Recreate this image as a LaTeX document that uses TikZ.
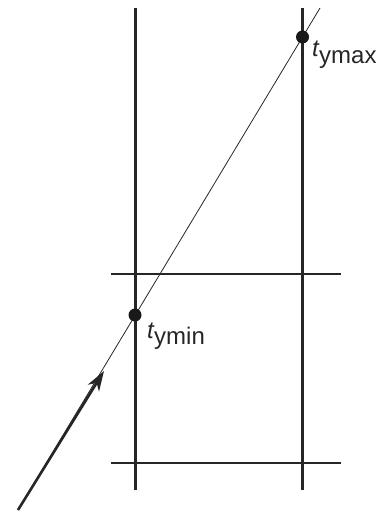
\documentclass[tikz,border=0pt]{standalone}
\usepackage{fontspec}
\setmainfont{Liberation Sans}
\usetikzlibrary{arrows.meta}
\begin{document}
\begin{tikzpicture}[x=1pt,y=-1pt,
  ink/.style={color=black!85},
  slab/.style={ink,line width=2.4pt},
  cut/.style={ink,line width=1.4pt},
  ray/.style={ink,line width=0.8pt},
  raythick/.style={ink,line width=2.6pt,-{Stealth[length=20pt,width=13pt,inset=6pt]}},
  hitdot/.style={circle,fill=black!90,inner sep=0pt,minimum size=13pt},
  tlabel/.style={ink,font=\fontsize{24}{26}\selectfont,inner sep=0pt,anchor=base west}]
\useasboundingbox (0,0) rectangle (381,513);
% slab boundaries
\coordinate (l1) at (135.5,8);   \coordinate (l2) at (135.5,490);
\coordinate (r1) at (302.5,8); \coordinate (r2) at (302.5,490);
\coordinate (h1a) at (111,274); \coordinate (h1b) at (341,274);
\coordinate (h2a) at (111,463); \coordinate (h2b) at (341,463);
\draw[slab] (l1) -- (l2);
\draw[slab] (r1) -- (r2);
\draw[cut] (h1a) -- (h1b);
\draw[cut] (h2a) -- (h2b);
% ray
\coordinate (start) at (18,510);
\coordinate (tip) at (104,371);
\coordinate (finish) at (320,8);
\draw[ray] (start) -- (finish);
\draw[raythick] (start) -- (tip);
% hit points
\node[hitdot] (dmin) at (135,315) {};
\node[hitdot] (dmax) at (302.5,37) {};
\node[tlabel] (lmin) at (147,338) {\textit{t}\kern-0.5pt\raisebox{-6.5pt}{ymin}};
\node[tlabel] (lmax) at (312,57) {\textit{t}\kern-0.5pt\raisebox{-6.5pt}{ymax}};
\end{tikzpicture}
\end{document}
